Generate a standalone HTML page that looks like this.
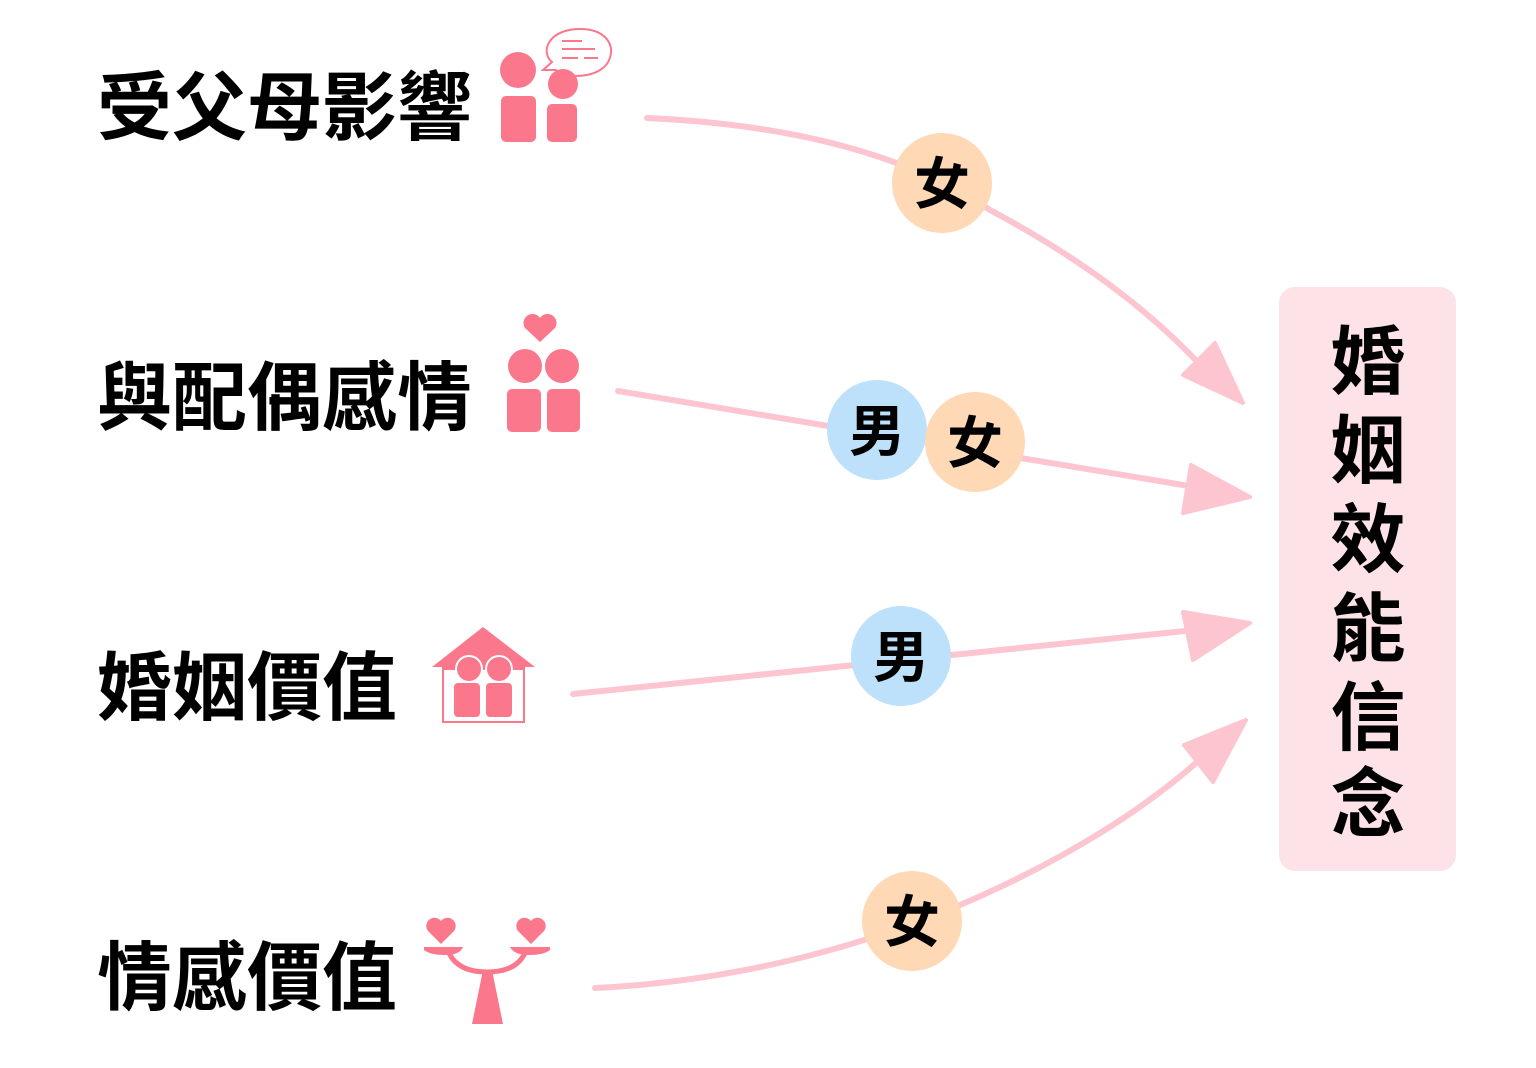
<!DOCTYPE html>
<html><head><meta charset="utf-8"><style>
html,body{margin:0;padding:0;background:#fff;}
svg{display:block}
text{font-family:"Liberation Sans","Noto Sans CJK TC",sans-serif;font-weight:bold;fill:#000}
</style></head><body>
<svg width="1536" height="1068" viewBox="0 0 1536 1068" xmlns="http://www.w3.org/2000/svg">
<rect x="1279" y="287" width="177" height="584" rx="16" fill="#fde3e8"/>
<g font-size="75" text-anchor="middle">
<text x="1368" y="388">婚</text>
<text x="1368" y="477">姻</text>
<text x="1368" y="566">效</text>
<text x="1368" y="655">能</text>
<text x="1368" y="744">信</text>
<text x="1368" y="830">念</text>
</g>
<g font-size="75">
<text x="97" y="134">受父母影響</text>
<text x="97" y="424">與配偶感情</text>
<text x="97" y="714">婚姻價值</text>
<text x="97" y="1004">情感價值</text>
</g>
<g stroke="#fcc5d0" stroke-width="6" fill="none" stroke-linecap="round">
<path d="M647,118 C780,124 900,150 990,210 C1080,258 1150,310 1205,370"/>
<line x1="618" y1="391" x2="1195" y2="487"/>
<line x1="573" y1="694" x2="1195" y2="630"/>
<path d="M595,988 C720,982 840,955 960,905 C1070,858 1150,805 1205,755"/>
</g>
<g fill="#fcc5d0" stroke="#fcc5d0" stroke-width="4" stroke-linejoin="round">
<polygon points="1243,403 1183,375 1215,343"/>
<polygon points="1250,497 1191,465 1183,513"/>
<polygon points="1250,623 1183,612 1193,660"/>
<polygon points="1246,720 1184,745 1213,782"/>
</g>
<g font-size="56" text-anchor="middle">
<circle cx="942" cy="183" r="50" fill="#ffd8b5"/><text x="942" y="204">女</text>
<circle cx="877" cy="430" r="50" fill="#bde0fb"/><text x="877" y="451">男</text>
<circle cx="975" cy="442" r="50" fill="#ffd8b5"/><text x="975" y="463">女</text>
<circle cx="901" cy="656" r="50" fill="#bde0fb"/><text x="901" y="677">男</text>
<circle cx="912" cy="921" r="50" fill="#ffd8b5"/><text x="912" y="942">女</text>
</g>
<g fill="#fb778c">
<circle cx="518" cy="70" r="18"/>
<rect x="501" y="96" width="35" height="46" rx="5"/>
<circle cx="563" cy="84" r="15"/>
<rect x="547" y="104" width="30" height="38" rx="5"/>
<path d="M540,342 L525,328 A8,8 0 0 1 540,318 A8,8 0 0 1 555,328 Z"/>
<circle cx="525" cy="366" r="17"/>
<circle cx="562" cy="366" r="17"/>
<rect x="507" y="389" width="34" height="43" rx="5"/>
<rect x="547" y="389" width="33" height="43" rx="5"/>
<polygon points="483,627 432,667 535,667"/>
<rect x="443" y="667" width="81" height="55" fill="none" stroke="#fb778c" stroke-width="2"/>
<rect x="443" y="664" width="81" height="6"/>
<circle cx="469" cy="669" r="13" stroke="#fff" stroke-width="2"/>
<circle cx="499" cy="669" r="13" stroke="#fff" stroke-width="2"/>
<rect x="454" y="683" width="26" height="34" rx="4"/>
<rect x="486" y="683" width="26" height="34" rx="4"/>
<path d="M441,944 L428,931 A7.5,7.5 0 0 1 441,921 A7.5,7.5 0 0 1 454,931 Z"/>
<path d="M531,944 L518,931 A7.5,7.5 0 0 1 531,921 A7.5,7.5 0 0 1 544,931 Z"/>
<path d="M424,947 L463,947 Q460,955 445,955 Q430,955 424,950 Z"/>
<path d="M510,947 L550,947 L550,950 Q544,955 529,955 Q514,955 510,947 Z"/>
<path d="M472,1024 L503,1024 L493,975 A5,5 0 0 0 482,975 Z"/>
</g>
<g fill="none" stroke="#fb778c">
<path d="M449,953 Q458,972 487,972 Q516,972 525,953" stroke-width="5"/>
<path d="M552,62 C540,52 548,30 578,29 C605,28 612,44 611,52 C610,68 595,76 575,76 C565,76 558,72 556,70 L543,70 Z" stroke-width="2"/>
<path d="M562,41 H582 M562,49 H595 M562,58 H578 M584,58 H598" stroke-width="2"/>
</g>
</svg>
</body></html>
